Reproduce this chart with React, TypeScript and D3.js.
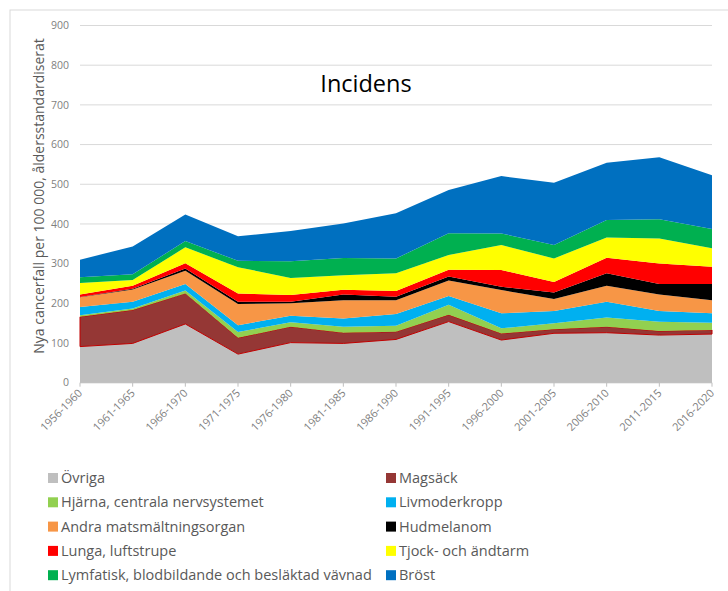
import React from "react";
import * as d3 from "d3";

const categories = ["1956-1960","1961-1965","1966-1970","1971-1975","1976-1980","1981-1985","1986-1990","1991-1995","1996-2000","2001-2005","2006-2010","2011-2015","2016-2020"];

const ovriga      = [91, 99, 148, 72, 101, 99, 109, 154, 107.5, 124.5, 126, 120, 122.5];
const magsack     = [75, 84, 77, 41, 40, 27, 19.5, 17, 16.5, 10, 15, 10, 10.5];
const hjarna      = [4, 4, 7, 15, 11, 15, 15, 25.5, 13, 15, 23.5, 23.5, 18];
const livmoder    = [21, 17, 17, 17, 17, 21, 29.5, 22, 38, 31, 39.5, 27, 24];
const andra       = [24, 31, 33, 53, 31, 46, 35, 39, 58.5, 30.5, 40, 42, 33];
const hudmelanom  = [1, 2, 6, 6, 4, 14, 8.5, 10, 8.5, 16, 31.5, 26, 40.5];
const lunga       = [6, 7, 13, 21, 17, 12.5, 14.5, 17, 42, 27, 39.5, 52, 43.5];
const tjock       = [29, 15, 40, 66, 43, 36, 44.5, 37.5, 63, 59, 51, 63, 46.5];
const lymfatisk   = [15, 14, 16, 16, 42, 44, 37.5, 54.5, 29, 34, 44, 48.5, 48.5];
const brost       = [44, 70, 67, 62, 76, 86.5, 114, 109, 144.7, 157, 144, 156, 136];

const yTicks = [0, 100, 200, 300, 400, 500, 600, 700, 800, 900];

const seriesNames = ["Övriga","Magsäck","Hjärna, centrala nervsystemet","Livmoderkropp","Andra matsmältningsorgan","Hudmelanom","Lunga, luftstrupe","Tjock- och ändtarm","Lymfatisk, blodbildande och besläktad vävnad","Bröst"];
const seriesValues = [ovriga, magsack, hjarna, livmoder, andra, hudmelanom, lunga, tjock, lymfatisk, brost];
const seriesColors = ["#bfbfbf","#953735","#92d050","#00b0f0","#f79646","#000000","#ff0000","#ffff00","#00b050","#0070c0"];

const legendOrder = [0,1,2,3,4,5,6,7,8,9];

export default function App() {
  const W = 728, H = 591;
  const left = 80, right = 712, top = 25.5, bottom = 382.7;

  const x = d3.scalePoint<string>().domain(categories).range([left, right]);
  const y = d3.scaleLinear().domain([0, 900]).range([bottom, top]);

  const table = categories.map((c, i) => {
    const row: any = { cat: c };
    seriesNames.forEach((n, s) => { row[n] = seriesValues[s][i]; });
    return row;
  });
  const stack = d3.stack<any>().keys(seriesNames);
  const layers = stack(table);
  const area = d3.area<any>()
    .x((d: any) => x(d.data.cat) as number)
    .y0((d: any) => y(d[0]))
    .y1((d: any) => y(d[1]));

  const font = "'Open Sans', 'Noto Sans', sans-serif";

  return (
    <svg width={W} height={H} style={{ position: "absolute", left: 0, top: 0, background: "#fff" }}>
      <rect x={10} y={10} width={740} height={620} fill="#fff" stroke="#d9d9d9" strokeWidth={1} />
      {yTicks.map(t => (
        <g key={t}>
          <line x1={left} x2={right} y1={y(t)} y2={y(t)} stroke="#d9d9d9" strokeWidth={1} />
          <text x={69} y={y(t)} dy="0.35em" textAnchor="end" fontFamily={font} fontSize={10.5} fill="#7f7f7f">{t}</text>
        </g>
      ))}
      {layers.map((layer, i) => (
        <path key={i} d={area(layer as any) || ""} fill={seriesColors[i]}
          stroke={i === 1 ? "#c00000" : "none"} strokeWidth={i === 1 ? 1 : 0} />
      ))}
      <line x1={left} x2={right} y1={bottom} y2={bottom} stroke="#bfbfbf" strokeWidth={1} />
      {categories.map(c => (
        <g key={c}>
          <line x1={x(c)} x2={x(c)} y1={bottom} y2={bottom + 4} stroke="#bfbfbf" />
          <text transform={`translate(${(x(c) as number) + 3},${bottom + 11}) rotate(-45)`} textAnchor="end"
            fontFamily={font} fontSize={11} fill="#7f7f7f">{c}</text>
        </g>
      ))}
      <text x={366} y={92} textAnchor="middle" fontFamily={font} fontSize={23.5} fill="#000">Incidens</text>
      <text transform={`translate(44,196) rotate(-90)`} textAnchor="middle" fontFamily={font} fontSize={14} fill="#595959">
        Nya cancerfall per 100 000, åldersstandardiserat
      </text>
      {legendOrder.map((s, k) => {
        const col = k % 2, row = Math.floor(k / 2);
        const lx = col === 0 ? 48 : 386;
        const ly = 478 + row * 24.3;
        return (
          <g key={s}>
            <rect x={lx} y={ly - 5} width={10} height={10} fill={seriesColors[s]} />
            <text x={lx + 13} y={ly} dy="0.35em" fontFamily={font} fontSize={14.5} fill="#595959">{seriesNames[s]}</text>
          </g>
        );
      })}
    </svg>
  );
}
